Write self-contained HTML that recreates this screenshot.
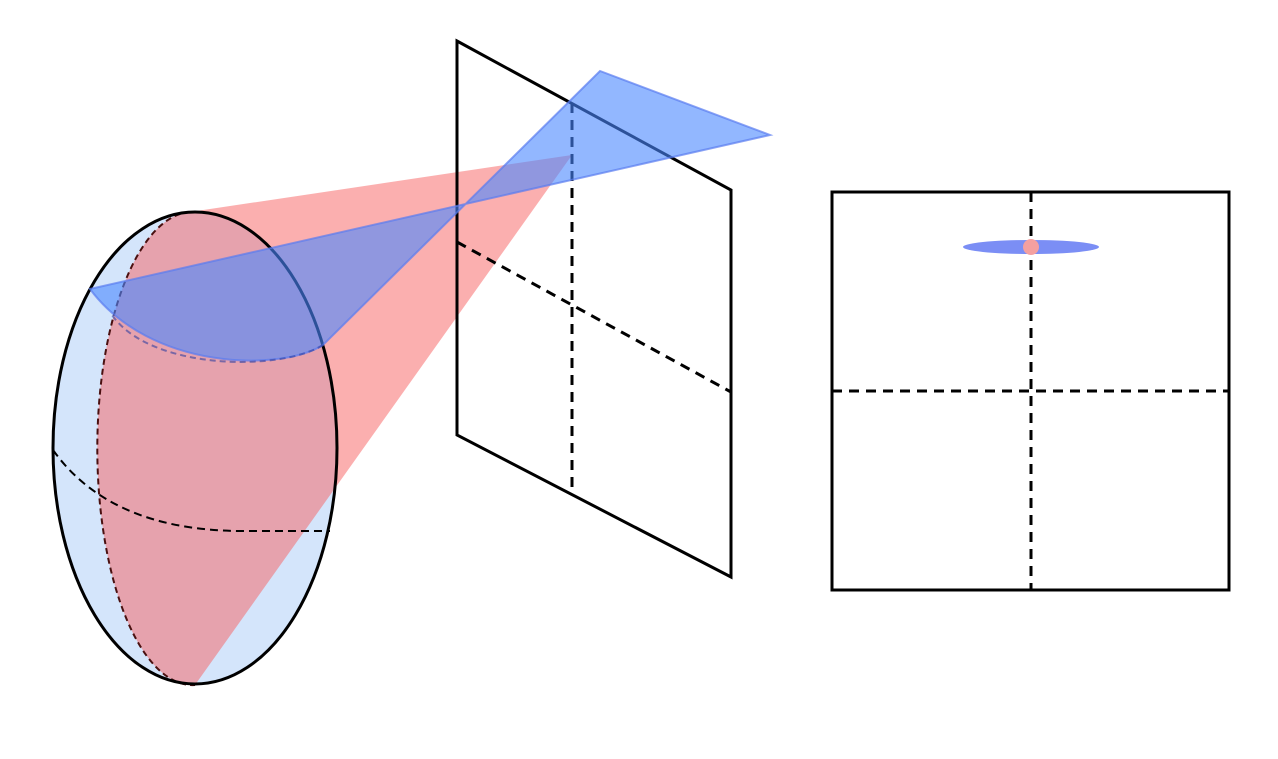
<!DOCTYPE html>
<html><head><style>html,body{margin:0;padding:0;background:#fff}</style></head><body>
<svg width="1278" height="754" viewBox="0 0 1278 754" xmlns="http://www.w3.org/2000/svg">
<ellipse cx="195" cy="448" rx="142" ry="236" fill="#d4e5fb"/>
<path d="M190,212 L572,155 L195,685 A95,236 0 0 1 190,212 Z" fill="#f86060" fill-opacity="0.5"/>
<path d="M190,212 A95,236 0 0 0 195,685" fill="none" stroke="#4a1010" stroke-width="2" stroke-dasharray="6,4"/>
<path d="M53,450 Q110,530 240,531 L330,531" fill="none" stroke="#000" stroke-width="2" stroke-dasharray="8,5"/>
<ellipse cx="195" cy="448" rx="142" ry="236" fill="none" stroke="#000" stroke-width="3"/>
<polygon points="457,41 731,190 731,577 457,435" fill="none" stroke="#000" stroke-width="3"/>
<line x1="572" y1="103" x2="572" y2="490" stroke="#000" stroke-width="3" stroke-dasharray="10,7"/>
<line x1="457" y1="242" x2="731" y2="392" stroke="#000" stroke-width="3" stroke-dasharray="10,7"/>
<path d="M90,289 L770,135 L600,71 L323,345 C280,372 150,370 90,289 Z" fill="#4a87ff" fill-opacity="0.6" stroke="#5a7cf0" stroke-opacity="0.7" stroke-width="2"/>
<path d="M323,345 C280,372 150,370 112,315" fill="none" stroke="#3040a0" stroke-width="2" stroke-dasharray="6,4" stroke-opacity="0.6"/>
<rect x="832" y="192" width="397" height="398" fill="none" stroke="#000" stroke-width="3"/>
<line x1="1031" y1="192" x2="1031" y2="590" stroke="#000" stroke-width="3" stroke-dasharray="10,7"/>
<line x1="832" y1="391" x2="1229" y2="391" stroke="#000" stroke-width="3" stroke-dasharray="10,7"/>
<ellipse cx="1031" cy="247" rx="68" ry="7" fill="#7b8ef5"/>
<circle cx="1031" cy="247" r="8" fill="#f4a0a0"/>
</svg>
</body></html>
